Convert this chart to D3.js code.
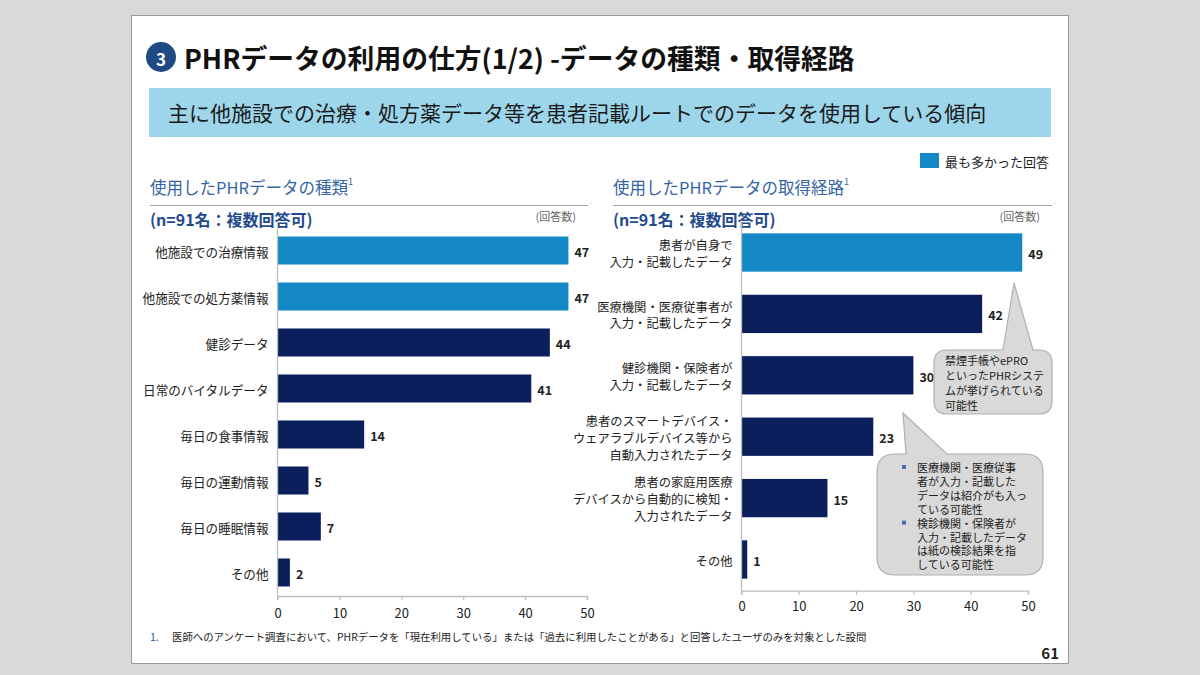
<!DOCTYPE html>
<html><head><meta charset="utf-8">
<script src="https://cdn.jsdelivr.net/npm/d3@7"></script>
<style>
html,body{margin:0;padding:0;background:#d9d9d9;}
svg{display:block;font-family:"Noto Sans CJK JP","Noto Sans",sans-serif;}
</style></head>
<body><svg id="c" width="1200" height="675"></svg>
<script>
// ---------- data ----------
const typeLabels = ["他施設での治療情報","他施設での処方薬情報","健診データ","日常のバイタルデータ","毎日の食事情報","毎日の運動情報","毎日の睡眠情報","その他"];
const typeValues = [47,47,44,41,14,5,7,2];
const routeLabels = [
  ["患者が自身で","入力・記載したデータ"],
  ["医療機関・医療従事者が","入力・記載したデータ"],
  ["健診機関・保険者が","入力・記載したデータ"],
  ["患者のスマートデバイス・","ウェアラブルデバイス等から","自動入力されたデータ"],
  ["患者の家庭用医療","デバイスから自動的に検知・","入力されたデータ"],
  ["その他"]
];
const routeValues = [49,42,30,23,15,1];
const xTicks = [0,10,20,30,40,50];
const callout1Lines = ["禁煙手帳やePRO","といったPHRシステ","ムが挙げられている","可能性"];
const callout2Items = [
  ["医療機関・医療従事","者が入力・記載した","データは紹介がも入っ","ている可能性"],
  ["検診機関・保険者が","入力・記載したデータ","は紙の検診結果を指","している可能性"]
];

const HI = "#1589c6", NAVY = "#0b1f5c";
const svg = d3.select("#c");

// slide
svg.append("rect").attr("x",131.5).attr("y",15.5).attr("width",937).attr("height",648)
  .attr("fill","#fff").attr("stroke","#9a9a9a");

// header badge + title
svg.append("circle").attr("cx",161).attr("cy",57).attr("r",15).attr("fill","#1f4a85");
svg.append("text").attr("x",161).attr("y",58).attr("text-anchor","middle").attr("dominant-baseline","central")
  .attr("fill","#fff").attr("font-size",17).attr("font-weight",700).text("3");
svg.append("text").attr("x",184).attr("y",57).attr("dominant-baseline","central")
  .attr("font-size",26.8).attr("font-weight",700).attr("fill","#111")
  .text("PHRデータの利用の仕方(1/2) -データの種類・取得経路");

// banner
svg.append("rect").attr("x",149).attr("y",88).attr("width",902).attr("height",49).attr("fill","#9dd5ea");
svg.append("text").attr("x",168).attr("y",112).attr("dominant-baseline","central")
  .attr("font-size",21).attr("fill","#1a1a1a")
  .text("主に他施設での治療・処方薬データ等を患者記載ルートでのデータを使用している傾向");

// legend
svg.append("rect").attr("x",920).attr("y",153).attr("width",19).attr("height",15).attr("fill",HI);
svg.append("text").attr("x",945).attr("y",161).attr("dominant-baseline","central")
  .attr("font-size",13).attr("fill","#222").text("最も多かった回答");

function panelHeader(x0, x1, title) {
  const t = svg.append("text").attr("x",x0).attr("y",187).attr("dominant-baseline","central")
    .attr("font-size",16.5).attr("fill","#3565a3");
  t.append("tspan").text(title);
  t.append("tspan").attr("font-size",9).attr("dy",-6).text("1");
  svg.append("line").attr("x1",x0).attr("x2",x1).attr("y1",205.5).attr("y2",205.5)
    .attr("stroke","#a6a6a6").attr("stroke-width",1.2);
  svg.append("text").attr("x",x0).attr("y",219).attr("dominant-baseline","central")
    .attr("font-size",16).attr("font-weight",700).attr("fill","#1f4b8c").text("(n=91名：複数回答可)");
  svg.append("text").attr("x",x1-12).attr("y",216).attr("dominant-baseline","central").attr("text-anchor","end")
    .attr("font-size",11).attr("fill","#666").text("(回答数)");
}
panelHeader(150, 588, "使用したPHRデータの種類");
panelHeader(613, 1052, "使用したPHRデータの取得経路");

function barChart(opts) {
  const {labels, values, xRange, yRange, pad, labelFn, tickY} = opts;
  const x = d3.scaleLinear().domain([0,50]).range(xRange);
  const y = d3.scaleBand().domain(d3.range(values.length)).range(yRange)
    .paddingInner(pad).paddingOuter(pad/2);
  const maxV = d3.max(values);
  const g = svg.append("g");
  g.selectAll("rect.bar").data(values).join("rect").attr("class","bar")
    .attr("x",x(0)).attr("y",(d,i)=>y(i)).attr("height",y.bandwidth())
    .attr("width",d=>x(d)-x(0)).attr("fill",d=>d===maxV?HI:NAVY);
  g.selectAll("text.val").data(values).join("text").attr("class","val")
    .attr("x",d=>x(d)+6).attr("y",(d,i)=>y(i)+y.bandwidth()/2+1).attr("dominant-baseline","central")
    .attr("font-size",12.5).attr("font-weight",700).attr("fill","#222").text(d=>d);
  // category labels
  labels.forEach((lab,i)=>{
    const lines = Array.isArray(lab)?lab:[lab];
    const lh = 16.8;
    const cy = y(i)+y.bandwidth()/2;
    lines.forEach((ln,k)=>{
      g.append("text").attr("x",x(0)-9).attr("y",cy+(k-(lines.length-1)/2)*lh+1)
        .attr("dominant-baseline","central").attr("text-anchor","end")
        .attr("font-size",labelFn).attr("fill","#222").text(ln);
    });
  });
  // x axis
  const ax = g.append("g").attr("transform",`translate(0,${yRange[1]+0.5})`)
    .call(d3.axisBottom(x).tickValues(xTicks).tickSize(4).tickPadding(tickY));
  ax.select(".domain").attr("stroke","#bfbfbf").attr("stroke-width",1.3);
  ax.selectAll(".tick line").attr("stroke","#bfbfbf").attr("stroke-width",1.3);
  ax.selectAll(".tick text").attr("font-size",13).attr("fill","#222")
    .attr("font-family","\"Noto Sans CJK JP\",sans-serif");
  // y axis line
  g.append("line").attr("x1",x(0)).attr("x2",x(0)).attr("y1",yRange[0]+1).attr("y2",yRange[1]+0.5)
    .attr("stroke","#bfbfbf").attr("stroke-width",1.3);
}

barChart({labels:typeLabels, values:typeValues, xRange:[277.5,587], yRange:[227.5,595.5], pad:0.391, labelFn:12.6, tickY:9});
barChart({labels:routeLabels, values:routeValues, xRange:[741.5,1028], yRange:[221.8,590.2], pad:0.376, labelFn:12.3, tickY:7});

// callouts
function callout(bx,by,bw,bh,r,t0,t1,tip){
  const x1=bx+bw, y1=by+bh;
  const p = `M${bx+r},${by} L${t0},${by} L${tip[0]},${tip[1]} L${t1},${by} L${x1-r},${by}
    Q${x1},${by} ${x1},${by+r} L${x1},${y1-r} Q${x1},${y1} ${x1-r},${y1} L${bx+r},${y1}
    Q${bx},${y1} ${bx},${y1-r} L${bx},${by+r} Q${bx},${by} ${bx+r},${by} Z`;
  svg.append("path").attr("d",p).attr("fill","#d9d9d9").attr("stroke","#b0b0b0").attr("stroke-width",1.2);
}
callout(934,350,118,64,13,1003,1033,[1014,283]);
callout(877,454,166,121,18,906,947,[903,413]);

callout1Lines.forEach((ln,k)=>{
  svg.append("text").attr("x",945).attr("y",360+k*15).attr("dominant-baseline","central")
    .attr("font-size",11).attr("fill","#222").text(ln);
});
let lineIdx=0;
callout2Items.forEach(item=>{
  item.forEach((ln,k)=>{
    const yy = 467+lineIdx*13.9;
    if(k===0) svg.append("rect").attr("x",902).attr("y",yy-2).attr("width",4).attr("height",4).attr("fill","#4a6fb0");
    svg.append("text").attr("x",917).attr("y",yy).attr("dominant-baseline","central")
      .attr("font-size",11).attr("fill","#222").text(ln);
    lineIdx++;
  });
});

// footnote & page number
svg.append("text").attr("x",150).attr("y",636).attr("dominant-baseline","central")
  .attr("font-size",10.5).attr("fill","#2a5a9a").text("1.");
svg.append("text").attr("x",172).attr("y",636).attr("dominant-baseline","central")
  .attr("font-size",10.4).attr("fill","#222")
  .text("医師へのアンケート調査において、PHRデータを「現在利用している」または「過去に利用したことがある」と回答したユーザのみを対象とした設問");
svg.append("text").attr("x",1059).attr("y",652).attr("dominant-baseline","central").attr("text-anchor","end")
  .attr("font-size",15).attr("font-weight",700).attr("fill","#222").text("61");
</script></body></html>
